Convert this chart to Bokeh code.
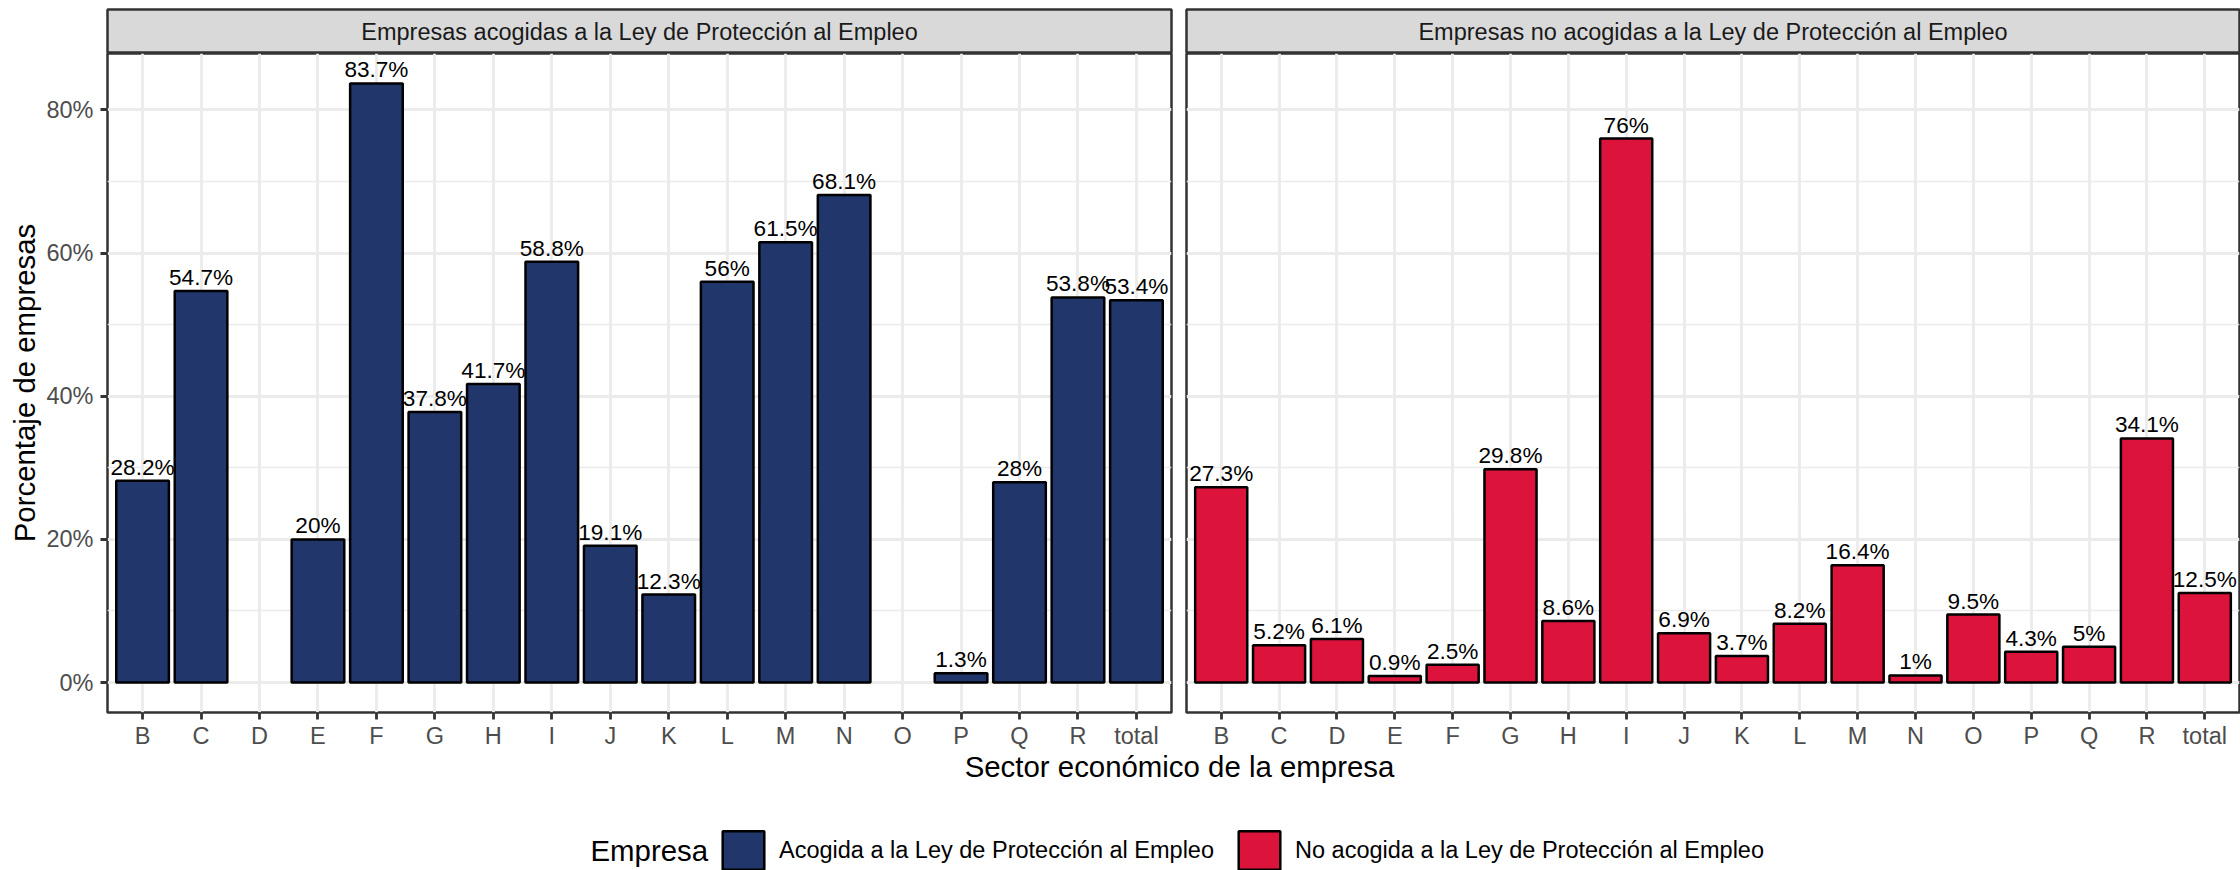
from bokeh.plotting import figure
from bokeh.models import (Range1d, FactorRange, FixedTicker, PrintfTickFormatter, Label, LabelSet,
                          Legend, LegendItem, ColumnDataSource)
from bokeh.layouts import column, row
from bokeh.embed import file_html
from bokeh.resources import INLINE
from bokeh.core.properties import value

# ---------------- data ----------------
sectors = ["B", "C", "D", "E", "F", "G", "H", "I", "J", "K", "L", "M", "N", "O", "P", "Q", "R", "total"]
acogidas = [28.2, 54.7, None, 20.0, 83.7, 37.8, 41.7, 58.8, 19.1, 12.3, 56.0, 61.5, 68.1, None, 1.3, 28.0, 53.8, 53.4]
no_acogidas = [27.3, 5.2, 6.1, 0.9, 2.5, 29.8, 8.6, 76.0, 6.9, 3.7, 8.2, 16.4, 1.0, 9.5, 4.3, 5.0, 34.1, 12.5]
y_ticks = [0, 20, 40, 60, 80]
y_minor = [10, 30, 50, 70]
panel_titles = ["Empresas acogidas a la Ley de Protección al Empleo",
                "Empresas no acogidas a la Ley de Protección al Empleo"]
legend_labels = ["Acogida a la Ley de Protección al Empleo",
                 "No acogida a la Ley de Protección al Empleo"]
colors = ["#21366B", "#DC143C"]
x_title = "Sector económico de la empresa"
y_title = "Porcentaje de empresas"
legend_title = "Empresa"

# ---------------- style ----------------
FONT = "Liberation Sans"
GREY20 = "#333333"
GREY30 = "#4D4D4D"
GRID = "#EBEBEB"
TICK_FS = "23.5px"
LABEL_FS = "22.6px"
TITLE_FS = "29.4px"

all_vals = [v for v in acogidas + no_acogidas if v is not None]
ymax = max(all_vals)
pad = 0.05 * ymax
y_range = Range1d(-pad, ymax + pad)

FRAME_H = 659
MB_BOTTOM = 38
STRIP_TOP = 9


def fmt(v):
    return f"{v:g}%"


def make_panel(vals, color, with_yaxis, frame_width, mb_left, mb_right):
    keep = [(s, v) for s, v in zip(sectors, vals) if v is not None]
    src = ColumnDataSource(dict(
        x=[s for s, _ in keep],
        top=[v for _, v in keep],
        label=[fmt(v) for _, v in keep],
    ))
    p = figure(
        x_range=FactorRange(factors=sectors, range_padding=0.2 / len(sectors),
                            range_padding_units="percent"),
        y_range=y_range,
        frame_width=frame_width, frame_height=FRAME_H,
        min_border_left=mb_left, min_border_right=mb_right,
        min_border_top=0, min_border_bottom=MB_BOTTOM,
        toolbar_location=None, output_backend="svg",
        y_axis_location="left" if with_yaxis else None,
        background_fill_color="white", border_fill_color="white",
        outline_line_color=GREY20, outline_line_width=2.5,
    )
    # grids
    p.xgrid.grid_line_color = GRID
    p.xgrid.grid_line_width = 2.8
    p.ygrid.ticker = FixedTicker(ticks=y_ticks, minor_ticks=y_minor)
    p.ygrid.grid_line_color = GRID
    p.ygrid.grid_line_width = 2.8
    p.ygrid.minor_grid_line_color = GRID
    p.ygrid.minor_grid_line_width = 1.4

    # x axis
    xa = p.xaxis[0]
    xa.axis_line_color = None
    xa.major_tick_out = 7
    xa.major_tick_in = 0
    xa.major_tick_line_color = GREY20
    xa.major_tick_line_width = 2.8
    xa.minor_tick_line_color = None
    xa.major_label_text_font = FONT
    xa.major_label_text_font_size = TICK_FS
    xa.major_label_text_color = GREY30
    xa.major_label_standoff = 3

    if with_yaxis:
        ya = p.yaxis[0]
        ya.ticker = FixedTicker(ticks=y_ticks, minor_ticks=[])
        ya.formatter = PrintfTickFormatter(format="%d%%")
        ya.axis_line_color = None
        ya.major_tick_out = 7
        ya.major_tick_in = 0
        ya.major_tick_line_color = GREY20
        ya.major_tick_line_width = 2.8
        ya.minor_tick_line_color = None
        ya.major_label_text_font = FONT
        ya.major_label_text_font_size = TICK_FS
        ya.major_label_text_color = GREY30
        ya.major_label_standoff = 7
        ya.axis_label = y_title
        ya.axis_label_text_font = FONT
        ya.axis_label_text_font_size = TITLE_FS
        ya.axis_label_text_font_style = "normal"
        ya.axis_label_text_color = "black"
        ya.axis_label_standoff = 2

    p.vbar(x="x", top="top", bottom=0, width=0.9, source=src,
           fill_color=color, line_color="black", line_width=2.5)
    p.add_layout(LabelSet(x="x", y="top", text="label", source=src,
                          text_align="center", text_baseline="alphabetic", y_offset=6,
                          text_font=value(FONT), text_font_size=value(LABEL_FS),
                          text_color=value("black")))
    return p


def make_strip(title, frame_width, mb_left, mb_right):
    s = figure(
        x_range=Range1d(0, 1), y_range=Range1d(0, 1),
        frame_width=frame_width, frame_height=44,
        min_border_left=mb_left, min_border_right=mb_right,
        min_border_top=STRIP_TOP, min_border_bottom=0,
        x_axis_location=None, y_axis_location=None,
        toolbar_location=None, output_backend="svg",
        background_fill_color="#D9D9D9", border_fill_color="white",
        outline_line_color=GREY20, outline_line_width=2.5,
    )
    s.grid.visible = False
    s.add_layout(Label(x=0.5, y=0.5, text=title, text_align="center",
                       text_baseline="middle", text_font=FONT,
                       text_font_size=TICK_FS, text_color="#1A1A1A"))
    return s


L_FRAME, L_LEFT, L_RIGHT = 1064, 107, 7
R_FRAME, R_LEFT, R_RIGHT = 1053, 8, 1

strip_l = make_strip(panel_titles[0], L_FRAME, L_LEFT, L_RIGHT)
strip_r = make_strip(panel_titles[1], R_FRAME, R_LEFT, R_RIGHT)
panel_l = make_panel(acogidas, colors[0], True, L_FRAME, L_LEFT, L_RIGHT)
panel_r = make_panel(no_acogidas, colors[1], False, R_FRAME, R_LEFT, R_RIGHT)

TOTAL_W = L_FRAME + L_LEFT + L_RIGHT + R_FRAME + R_LEFT + R_RIGHT
TOP_H = STRIP_TOP + 44 + FRAME_H + MB_BOTTOM
BOT_H = 870 - TOP_H

b = figure(
    x_range=Range1d(0, TOTAL_W), y_range=Range1d(0, BOT_H),
    width=TOTAL_W, height=BOT_H, min_border=0,
    x_axis_location=None, y_axis_location=None,
    toolbar_location=None, output_backend="svg",
    outline_line_color=None, background_fill_color="white", border_fill_color="white",
)
b.grid.visible = False

# shared x-axis title (centred under both panels)
b.add_layout(Label(x=1179, y=BOT_H - 15, text=x_title, text_align="center", text_baseline="middle",
                   text_font=FONT, text_font_size=TITLE_FS, text_color="black"))
# legend title
b.add_layout(Label(x=590, y=21, text=legend_title, text_align="left", text_baseline="middle",
                   text_font=FONT, text_font_size=TITLE_FS, text_color="black"))

# legend key renderers (placed outside the visible range; only their style is used)
key_src = ColumnDataSource(dict(x=[-100], top=[0]))
r1 = b.vbar(x="x", top="top", width=1, source=key_src,
            fill_color=colors[0], line_color="black", line_width=2.5)
r2 = b.vbar(x="x", top="top", width=1, source=key_src,
            fill_color=colors[1], line_color="black", line_width=2.5)
legend = Legend(
    items=[LegendItem(label=legend_labels[0], renderers=[r1]),
           LegendItem(label=legend_labels[1], renderers=[r2])],
    orientation="horizontal", location=(717, -3),
    padding=0, margin=0, spacing=19,
    glyph_width=52, glyph_height=48, label_standoff=10,
    label_text_font=FONT, label_text_font_size=TICK_FS, label_text_color="black",
    label_text_baseline="middle",
    border_line_color=None, background_fill_alpha=0,
)
b.add_layout(legend, "center")

layout = column(
    row(column(strip_l, panel_l), column(strip_r, panel_r)),
    b,
)

open("out.html", "w").write(file_html(layout, INLINE))
